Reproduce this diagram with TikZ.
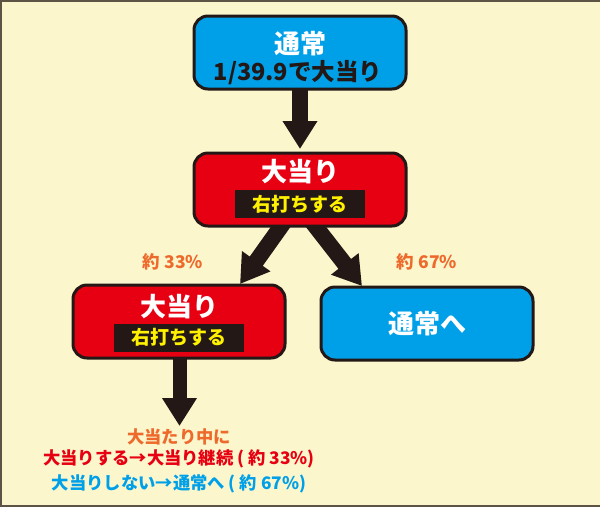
\documentclass[tikz,border=0pt]{standalone}
\usepackage{fontspec}
\setmainfont{Noto Sans CJK JP}
\usetikzlibrary{arrows.meta,backgrounds}
\definecolor{bgc}{HTML}{FBF6CC}
\definecolor{frm}{HTML}{5E5446}
\definecolor{bluec}{HTML}{00A0E9}
\definecolor{redc}{HTML}{E60012}
\definecolor{blk}{HTML}{231815}
\definecolor{yel}{HTML}{FFF100}
\definecolor{orgc}{HTML}{EE6A2C}
\tikzset{
  box/.style={draw=blk,line width=3pt,rounded corners=14pt,minimum width=212pt,minimum height=73pt,inner sep=0pt},
  bluebox/.style={box,fill=bluec},
  redbox/.style={box,fill=redc},
  tag/.style={fill=blk,minimum width=130pt,minimum height=28pt,inner sep=0pt,text=yel,font=\fontsize{19}{22}\selectfont\bfseries},
  big/.style={text=white,font=\fontsize{26}{30}\selectfont\bfseries,inner sep=0pt},
  fat/.style={line width=16pt,draw=blk,-{Triangle[width=33pt,length=28pt]}},
  pct/.style={text=orgc,font=\fontsize{17.5}{20}\selectfont\bfseries,inner sep=0pt},
  note/.style={font=\fontsize{17.3}{20}\selectfont\bfseries,inner sep=0pt}
}
\begin{document}
\begin{tikzpicture}[x=1pt,y=-1pt]
\useasboundingbox (0,0) rectangle (600,507);
\draw[frm,line width=2pt] (600,1) -- (1,1) -- (1,506) -- (600,506);
% boxes
\node[bluebox] (top) at (300,52.5) {};
\node[big] (t1) at (300,44) {通常};
\node[text=blk,font=\fontsize{23.5}{26}\selectfont\bfseries,inner sep=0pt] (t2) at (298,73) {1/39.9で大当り};
\node[redbox] (mid) at (300,189.5) {};
\node[big] (m1) at (300,172) {大当り};
\node[tag] (m2) at (300,204) {右打ちする};
\node[redbox] (left) at (179,321.5) {};
\node[big] (l1) at (179,307) {大当り};
\node[tag] (l2) at (179,337.5) {右打ちする};
\node[bluebox] (right) at (427,323.5) {};
\node[big] (r1) at (427,324) {通常へ};
% arrows
\coordinate (a1s) at (300,88);
\coordinate (a1e) at (300,149);
\coordinate (a2s) at (287,218);
\coordinate (a2e) at (240,284);
\coordinate (a3s) at (309,218);
\coordinate (a3e) at (362,286);
\coordinate (a4s) at (179.5,356);
\coordinate (a4e) at (179.5,426);
\begin{scope}[on background layer]
\fill[bgc] (0,0) rectangle (600,507);
\draw[fat] (a1s) -- (a1e);
\draw[fat] (a2s) -- (a2e);
\draw[fat] (a3s) -- (a3e);
\draw[fat,line width=14pt] (a4s) -- (a4e);
\end{scope}
% labels
\node[pct] (p1) at (173,262) {約 33\%};
\node[pct] (p2) at (427,262) {約 67\%};
\node[note,text=orgc] (n1) at (179,437) {大当たり中に};
\node[note,text=redc] (n2) at (179,459) {大当りする→大当り継続 ( 約 33\%)};
\node[note,text=bluec] (n3) at (179,484) {大当りしない→通常へ ( 約 67\%)};
\end{tikzpicture}
\end{document}
